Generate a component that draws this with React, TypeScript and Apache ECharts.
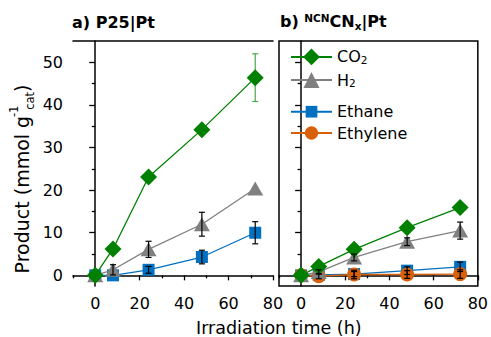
import React, { useEffect, useRef } from "react";
import * as echarts from "echarts";

// ---- data ----
const hours = [0, 8, 24, 48, 72];
const xTicks = [0, 20, 40, 60, 80];
const xMinor = [-10, 10, 30, 50, 70];
const yTicks = [0, 10, 20, 30, 40, 50];
const yMinor = [5, 15, 25, 35, 45];

// a) P25|Pt
const co2A = [0, 6.2, 23.1, 34.2, 46.4];
const co2AErr = [0, 0, 0, 0, 5.6];
const h2A = [0, 1.3, 6.1, 12.0, 20.4];
const h2AErr = [0, 1.2, 1.9, 2.8, 0];
const ethaneA = [0, 0, 1.3, 4.3, 10.0];
const ethaneAErr = [0, 0, 0.8, 1.6, 2.6];

// b) NCN-CNx|Pt
const co2B = [0, 2.1, 6.1, 11.2, 15.9];
const h2B = [0, 0.8, 4.2, 7.9, 10.5];
const h2BErr = [0, 0.5, 0.8, 0.9, 2.0];
const ethaneB = [0, 0.1, 0.3, 1.1, 2.0];
const ethaneBErr = [0, 0, 0.6, 0.9, 1.1];
const ethyleneB = [0, -0.2, 0.2, 0.2, 0.3];
const ethyleneBErr = [0, 0.6, 1.0, 0.9, 1.0];

const FONT = "DejaVu Sans, Verdana, sans-serif";
const GREEN = "#008000";
const GRAY = "#808080";
const BLUE = "#0070C0";
const ORANGE = "#D9600A";

const pairs = (vals: number[]) => hours.map((h, i) => [h, vals[i]]);
const errTriples = (vals: number[], errs: number[]) =>
  hours.map((h, i) => [h, vals[i], errs[i]]).filter((d) => d[2] > 0);

function lineSeries(name: string, vals: number[], color: string, symbol: string, size: any, xi: number, yi: number, z: number) {
  return {
    type: "line",
    name,
    xAxisIndex: xi,
    yAxisIndex: yi,
    data: pairs(vals),
    symbol,
    symbolSize: size,
    z,
    lineStyle: { color, width: 1.3 },
    itemStyle: { color },
  };
}

function errSeries(name: string, vals: number[], errs: number[], color: string, xi: number, yi: number, z: number) {
  return {
    type: "custom",
    name,
    xAxisIndex: xi,
    yAxisIndex: yi,
    z,
    encode: { x: 0, y: 1 },
    data: errTriples(vals, errs),
    renderItem: (params: any, api: any) => {
      const x = api.value(0);
      const y = api.value(1);
      const e = api.value(2);
      const top = api.coord([x, y + e]);
      const bot = api.coord([x, y - e]);
      const hw = 3;
      const style = { stroke: color, lineWidth: 1.2 };
      return {
        type: "group",
        children: [
          { type: "line", shape: { x1: top[0], y1: top[1], x2: bot[0], y2: bot[1] }, style },
          { type: "line", shape: { x1: top[0] - hw, y1: top[1], x2: top[0] + hw, y2: top[1] }, style },
          { type: "line", shape: { x1: bot[0] - hw, y1: bot[1], x2: bot[0] + hw, y2: bot[1] }, style },
        ],
      };
    },
  };
}

const axisLineStyle = { color: "#000", width: 1.5 };

function mainX(gridIndex: number) {
  return {
    type: "value",
    gridIndex,
    min: -10,
    max: 80,
    position: "bottom",
    axisLine: { show: true, lineStyle: axisLineStyle },
    axisTick: { show: true, inside: false, length: 5, customValues: xTicks, lineStyle: { color: "#000", width: 1.3 } },
    axisLabel: { show: true, customValues: xTicks, color: "#000", fontSize: 16, fontFamily: FONT, margin: 9 },
    splitLine: { show: false },
  };
}
function minorX(gridIndex: number) {
  return {
    type: "value",
    gridIndex,
    min: -10,
    max: 80,
    position: "bottom",
    axisLine: { show: false },
    axisTick: { show: true, inside: false, length: 3, customValues: xMinor, lineStyle: { color: "#000", width: 1.3 } },
    axisLabel: { show: false },
    splitLine: { show: false },
  };
}
function mainY(gridIndex: number, labels: boolean) {
  return {
    type: "value",
    gridIndex,
    min: -2.5,
    max: 55,
    position: "left",
    axisLine: { show: true, lineStyle: axisLineStyle },
    axisTick: { show: true, inside: false, length: 6, customValues: yTicks, lineStyle: { color: "#000", width: 1.3 } },
    axisLabel: { show: labels, customValues: yTicks, color: "#000", fontSize: 16, fontFamily: FONT, margin: 10 },
    splitLine: { show: false },
  };
}
function minorY(gridIndex: number) {
  return {
    type: "value",
    gridIndex,
    min: -2.5,
    max: 55,
    position: "left",
    axisLine: { show: false },
    axisTick: { show: true, inside: false, length: 3.5, customValues: yMinor, lineStyle: { color: "#000", width: 1.3 } },
    axisLabel: { show: false },
    splitLine: { show: false },
  };
}

const legendRows = [
  { name: "CO2", center: 59, h: 21 },
  { name: "H2", center: 82, h: 20 },
  { name: "Ethane", center: 111, h: 14.6 },
  { name: "Ethylene", center: 133.3, h: 16.6 },
];

export default function App() {
  const ref = useRef<HTMLDivElement>(null);
  useEffect(() => {
    if (!ref.current) return;
    const chart = echarts.init(ref.current, undefined, { renderer: "svg" });
    const option: any = {
      animation: false,
      backgroundColor: "#fff",
      textStyle: { fontFamily: FONT },
      title: [
        {
          text: "a) P25|Pt",
          left: 72,
          top: 14,
          padding: 0,
          textStyle: { fontSize: 16, fontWeight: "bold", color: "#000", fontFamily: FONT },
        },
        {
          text: "{b|b) }{sup|NCN}{b|CN}{sub|x}{b||Pt}",
          left: 280,
          top: 11,
          padding: 0,
          textStyle: {
            fontFamily: FONT,
            rich: {
              b: { fontSize: 16, fontWeight: "bold", color: "#000", fontFamily: FONT, lineHeight: 20 },
              sup: { fontSize: 10.5, fontWeight: "bold", color: "#000", fontFamily: FONT, verticalAlign: "middle", padding: [0, 0, 6, 0] },
              sub: { fontSize: 10.5, fontWeight: "bold", color: "#000", fontFamily: FONT, verticalAlign: "bottom", padding: [5, 0, 0, 0] },
            },
          },
        },
        {
          text: "Irradiation time (h)",
          left: 196,
          top: 319,
          padding: 0,
          textStyle: { fontSize: 17.5, fontWeight: "normal", color: "#000", fontFamily: FONT },
        },
      ],
      graphic: [
        {
          type: "text",
          x: 22,
          y: 179,
          rotation: Math.PI / 2,
          style: {
            text: "{m|Product (mmol g}{sup|-1}{sub|cat}{m|)}",
            align: "center",
            verticalAlign: "middle",
            fill: "#000",
            fontFamily: FONT,
            fontSize: 19,
            rich: {
              m: { fontSize: 19, fontFamily: FONT, fill: "#000", color: "#000", lineHeight: 28 },
              sup: { fontSize: 11.5, fontFamily: FONT, fill: "#000", color: "#000", verticalAlign: "top", width: 3, padding: [0, 0, 0, 3] },
              sub: { fontSize: 11.5, fontFamily: FONT, fill: "#000", color: "#000", verticalAlign: "bottom" },
            },
          },
        },
      ],
      grid: [
        { left: 73, top: 41, width: 200, height: 245, containLabel: false, show: false },
        { left: 279, top: 41, width: 201, height: 245, containLabel: false, show: true, borderColor: "#000", borderWidth: 1.5, backgroundColor: "transparent" },
      ],
      legend: legendRows.map((r) => ({
        data: [r.name],
        left: 290,
        top: r.center - r.h / 2,
        padding: 0,
        itemGap: 0,
        itemWidth: 41,
        itemHeight: r.h,
        selectedMode: false,
        formatter: (n: string) => (n === "CO2" ? "{n|CO}{s|2}" : n === "H2" ? "{n|H}{s|2}" : "{n|" + n + "}"),
        textStyle: {
          fontFamily: FONT,
          color: "#000",
          fontSize: 16,
          rich: {
            n: { fontSize: 16, fontFamily: FONT, color: "#000" },
            s: { fontSize: 10.5, fontFamily: FONT, color: "#000", verticalAlign: "bottom", padding: [6, 0, 0, 0] },
          },
        },
      })),
      xAxis: [
        mainX(0),
        minorX(0),
        {
          type: "value",
          gridIndex: 0,
          min: -10,
          max: 80,
          position: "top",
          axisLine: { show: true, lineStyle: axisLineStyle },
          axisTick: { show: false },
          axisLabel: { show: false },
          splitLine: { show: false },
        },
        mainX(1),
        minorX(1),
      ],
      yAxis: [mainY(0, true), minorY(0), mainY(1, false), minorY(1)],
      series: [
        // panel a
        lineSeries("Ethane", ethaneA, BLUE, "rect", 12, 0, 0, 2),
        lineSeries("H2", h2A, GRAY, "triangle", [16, 14], 0, 0, 3),
        errSeries("errCO2A", co2A, co2AErr, "#4aa84a", 0, 0, 3),
        lineSeries("CO2", co2A, GREEN, "diamond", 17, 0, 0, 4),
        errSeries("errH2A", h2A, h2AErr, "#000", 0, 0, 6),
        errSeries("errEthaneA", ethaneA, ethaneAErr, "#000", 0, 0, 6),
        // panel b
        lineSeries("Ethane", ethaneB, BLUE, "rect", 12, 3, 2, 2),
        lineSeries("Ethylene", ethyleneB, ORANGE, "circle", 14, 3, 2, 3),
        lineSeries("H2", h2B, GRAY, "triangle", [16, 14], 3, 2, 4),
        lineSeries("CO2", co2B, GREEN, "diamond", 17, 3, 2, 5),
        errSeries("errH2B", h2B, h2BErr, "#000", 3, 2, 6),
        errSeries("errEthaneB", ethaneB, ethaneBErr, "#000", 3, 2, 6),
        errSeries("errEthyleneB", ethyleneB, ethyleneBErr, "#000", 3, 2, 6),
      ],
    };
    chart.setOption(option);
    return () => chart.dispose();
  }, []);
  return <div ref={ref} style={{ width: 491, height: 337, position: "absolute", left: 0, top: 0 }} />;
}
